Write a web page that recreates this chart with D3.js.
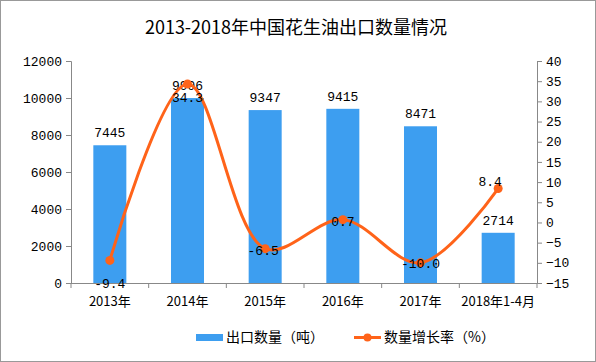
<!DOCTYPE html>
<html><head><meta charset="utf-8">
<script src="https://cdn.jsdelivr.net/npm/d3@7"></script>
<style>body{margin:0;background:#fff}</style>
</head><body>
<script>
const categories = ["2013年","2014年","2015年","2016年","2017年","2018年1-4月"];
const exportVolume = [7445, 9996, 9347, 9415, 8471, 2714];
const growthRate = [-9.4, 34.3, -6.5, 0.7, -10.0, 8.4];
const leftTicks = [0,2000,4000,6000,8000,10000,12000];
const rightTicks = [-15,-10,-5,0,5,10,15,20,25,30,35,40];
const title = "2013-2018年中国花生油出口数量情况";
const legendNames = ["出口数量（吨）","数量增长率（%）"];

(function(){
const W=596,H=362;
const svg=d3.select("body").append("svg").attr("width",W).attr("height",H);
svg.append("rect").attr("x",0.5).attr("y",0.5).attr("width",W-1).attr("height",H-1).attr("fill","#fff").attr("stroke","#999");
const numFont="'Liberation Mono','DejaVu Sans Mono',monospace";
const cjkFont="'Noto Sans CJK SC','Liberation Mono',sans-serif";
const mL=71,mR=537,mT=61,mB=283;
const x=d3.scaleBand().domain(categories).range([mL,mR]).paddingInner(0.575).paddingOuter(0.2875);
const xStep=(mR-mL)/categories.length;
const y=d3.scaleLinear().domain([0,12000]).range([mB,mT]);
const y2=d3.scaleLinear().domain([-15,40]).range([mB,mT]);
const axisColor="#888";

svg.append("text").attr("x",296).attr("y",34).attr("text-anchor","middle")
 .attr("font-family",cjkFont).attr("font-size",18).attr("fill","#000").text(title);

svg.selectAll("rect.bar").data(exportVolume).enter().append("rect").attr("class","bar")
 .attr("x",(d,i)=>x(categories[i])).attr("width",x.bandwidth())
 .attr("y",d=>y(d)).attr("height",d=>mB-y(d)).attr("fill","#3d9ef0");

const la=svg.append("g").attr("transform",`translate(${mL},0)`)
 .call(d3.axisLeft(y).tickValues(leftTicks).tickFormat(d3.format("d")).tickSize(5).tickPadding(4));
const ra=svg.append("g").attr("transform",`translate(${mR},0)`)
 .call(d3.axisRight(y2).tickValues(rightTicks).tickFormat(d3.format("d")).tickSize(5).tickPadding(4));
[la,ra].forEach(g=>{g.select(".domain").attr("stroke",axisColor);
 g.selectAll(".tick line").attr("stroke",axisColor);
 g.selectAll(".tick text").attr("font-family",numFont).attr("font-size",13).attr("fill","#000");});

const xa=svg.append("g");
xa.append("line").attr("x1",mL).attr("x2",mR).attr("y1",mB+0.5).attr("y2",mB+0.5).attr("stroke",axisColor);
d3.range(categories.length+1).forEach(i=>{
  xa.append("line").attr("x1",mL+i*xStep).attr("x2",mL+i*xStep).attr("y1",mB).attr("y2",mB+5).attr("stroke",axisColor);
});
xa.selectAll("text").data(categories).enter().append("text")
 .attr("x",d=>x(d)+x.bandwidth()/2).attr("y",mB+23).attr("text-anchor","middle")
 .attr("font-family",cjkFont).attr("font-size",13).attr("fill","#000").text(d=>d);

svg.selectAll("text.bl").data(exportVolume).enter().append("text").attr("class","bl")
 .attr("x",(d,i)=>x(categories[i])+x.bandwidth()/2).attr("y",d=>y(d)-8).attr("text-anchor","middle")
 .attr("font-family",numFont).attr("font-size",13).attr("fill","#000").text(d=>d);

const pts=growthRate.map((d,i)=>[x(categories[i])+x.bandwidth()/2,y2(d)]);
svg.append("path").attr("d",d3.line().curve(d3.curveCatmullRom.alpha(0.5))(pts))
 .attr("fill","none").attr("stroke","#ff6319").attr("stroke-width",3);
svg.selectAll("circle.pt").data(pts).enter().append("circle").attr("class","pt")
 .attr("cx",d=>d[0]).attr("cy",d=>d[1]).attr("r",4.5).attr("fill","#ff6319");

const lblOff=[[0,28],[0,18],[-2,6],[0,6],[0,5],[-8,-3]];
svg.selectAll("text.ll").data(growthRate).enter().append("text").attr("class","ll")
 .attr("x",(d,i)=>pts[i][0]+lblOff[i][0]).attr("y",(d,i)=>pts[i][1]+lblOff[i][1]).attr("text-anchor","middle")
 .attr("font-family",numFont).attr("font-size",13).attr("fill","#000").text(d=>d.toFixed(1));

const lg=svg.append("g");
lg.append("rect").attr("x",196).attr("y",334).attr("width",27).attr("height",7).attr("fill","#3d9ef0");
lg.append("text").attr("x",226).attr("y",342).attr("font-family",cjkFont).attr("font-size",14).text(legendNames[0]);
lg.append("line").attr("x1",354).attr("x2",381).attr("y1",337.5).attr("y2",337.5).attr("stroke","#ff6319").attr("stroke-width",3);
lg.append("circle").attr("cx",367.5).attr("cy",337.5).attr("r",4).attr("fill","#ff6319");
lg.append("text").attr("x",384).attr("y",342).attr("font-family",cjkFont).attr("font-size",14).text(legendNames[1]);
})();
</script>
</body></html>
